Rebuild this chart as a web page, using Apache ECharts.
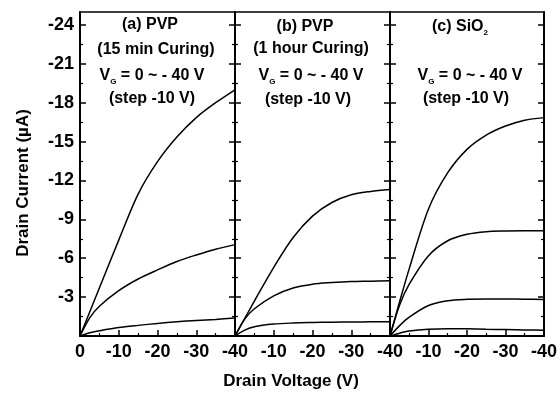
<!DOCTYPE html>
<html><head><meta charset="utf-8">
<script src="https://cdn.jsdelivr.net/npm/echarts@6/dist/echarts.min.js"></script>
<style>html,body{margin:0;padding:0;background:#fff}#c{width:560px;height:393px}</style>
</head><body><div id="c"></div>
<script>
// Drain voltage (V) sample points, shared by all curves
const drainVoltage = [0, -2.5, -5, -10, -15, -20, -25, -30, -35, -40];
// (a) PVP, 15 min curing — drain current (µA)
const pvp15_a1 = [0, -1.85, -3.7, -7.4, -10.95, -13.45, -15.35, -16.85, -18.0, -19.0];
const pvp15_a2 = [0, -1.4, -2.3, -3.5, -4.4, -5.1, -5.75, -6.25, -6.7, -7.05];
const pvp15_a3 = [0, -0.25, -0.4, -0.65, -0.82, -0.97, -1.1, -1.2, -1.28, -1.38];
// (b) PVP, 1 hour curing
const pvp1h_b1 = [0, -1.35, -2.7, -5.3, -7.6, -9.25, -10.3, -10.9, -11.15, -11.3];
const pvp1h_b2 = [0, -1.3, -2.1, -3.1, -3.7, -4.0, -4.12, -4.2, -4.23, -4.27];
const pvp1h_b3 = [0, -0.45, -0.72, -0.92, -1.0, -1.04, -1.07, -1.08, -1.09, -1.1];
// (c) SiO2
const sio2_c1 = [0, -2.65, -5.2, -9.8, -12.6, -14.4, -15.5, -16.2, -16.65, -16.85];
const sio2_c2 = [0, -2.4, -4.0, -6.2, -7.35, -7.85, -8.05, -8.1, -8.12, -8.12];
const sio2_c3 = [0, -0.8, -1.45, -2.35, -2.72, -2.83, -2.86, -2.85, -2.84, -2.82];
const sio2_c4 = [0, -0.22, -0.38, -0.52, -0.56, -0.55, -0.52, -0.5, -0.47, -0.44];
// tick values
const yMajorTicks = [-24, -21, -18, -15, -12, -9, -6, -3];
const yMinorTicks = [-22.5, -19.5, -16.5, -13.5, -10.5, -7.5, -4.5, -1.5];

const panels = [
  {curves: [pvp15_a1, pvp15_a2, pvp15_a3]},
  {curves: [pvp1h_b1, pvp1h_b2, pvp1h_b3]},
  {curves: [sio2_c1, sio2_c2, sio2_c3, sio2_c4]}
];
const FONT = '"Liberation Sans", Arial, sans-serif';
const gridLeft = [80, 235, 390];
const gridW = [155, 155, 154];

const grid = [], xAxis = [], yAxis = [], series = [];
panels.forEach((p, i) => {
  grid.push({left: gridLeft[i], width: gridW[i], top: 12, height: 324,
    show: true, borderColor: '#000', borderWidth: 1.5, backgroundColor: 'transparent'});
  xAxis.push({type: 'value', gridIndex: i, min: -40, max: 0, inverse: true, interval: 10,
    axisLine: {show: true, lineStyle: {color: '#000', width: 2}},
    axisTick: {show: true, inside: true, length: 6, lineStyle: {color: '#000', width: 1.5}},
    minorTick: {show: true, splitNumber: 2, length: 3, lineStyle: {color: '#000', width: 1.2}},
    splitLine: {show: false},
    axisLabel: {color: '#000', fontFamily: FONT, fontWeight: 'bold', fontSize: 18, margin: 7,
      showMinLabel: true, showMaxLabel: true,
      formatter: v => (i > 0 && v === 0) ? '' : String(v)}
  });
  const base = yAxis.length;
  ['left', 'right'].forEach(pos => {
    yAxis.push({type: 'value', gridIndex: i, position: pos, min: -25, max: 0, inverse: true,
      axisLine: {show: true, lineStyle: {color: '#000', width: 2}},
      axisTick: {show: true, inside: true, length: 6, customValues: yMajorTicks, lineStyle: {color: '#000', width: 1.5}},
      splitLine: {show: false},
      axisLabel: {show: i === 0 && pos === 'left', customValues: yMajorTicks, color: '#000',
        fontFamily: FONT, fontWeight: 'bold', fontSize: 18, margin: 6}
    });
    yAxis.push({type: 'value', gridIndex: i, position: pos, min: -25, max: 0, inverse: true,
      axisLine: {show: false},
      axisTick: {show: true, inside: true, length: 3, customValues: yMinorTicks, lineStyle: {color: '#000', width: 1.2}},
      splitLine: {show: false},
      axisLabel: {show: false}
    });
  });
  p.curves.forEach(c => {
    series.push({type: 'line', xAxisIndex: i, yAxisIndex: base, smooth: 0.3,
      showSymbol: false, silent: true, animation: false,
      lineStyle: {color: '#000', width: 1.5},
      data: drainVoltage.map((v, k) => [v, c[k]])});
  });
});

const tStyle = (x, y, text, size, rich) => ({
  type: 'text', x: x, y: y, silent: true,
  style: {text: text, fill: '#000', font: 'bold ' + size + 'px ' + FONT, align: 'center', verticalAlign: 'middle', rich: rich}
});
const subRich = {
  m: {fontFamily: FONT, fontWeight: 'bold', fontSize: 16, lineHeight: 20, verticalAlign: 'middle', fill: '#000'},
  s: {fontFamily: FONT, fontWeight: 'bold', fontSize: 8, lineHeight: 8, verticalAlign: 'bottom', fill: '#000'}
};
const graphic = [
  tStyle(150, 25, '(a) PVP', 16),
  tStyle(156, 50, '(15 min Curing)', 16),
  tStyle(152, 76, '{m|V}{s|G}{m| = 0 ~ - 40 V}', 16, subRich),
  tStyle(152, 99, '(step -10 V)', 16),
  tStyle(305, 27, '(b) PVP', 16),
  tStyle(311, 49, '(1 hour Curing)', 16),
  tStyle(311, 76, '{m|V}{s|G}{m| = 0 ~ - 40 V}', 16, subRich),
  tStyle(308, 100, '(step -10 V)', 16),
  tStyle(460, 27, '{m|(c) SiO}{s|2}', 16, subRich),
  tStyle(470, 76, '{m|V}{s|G}{m| = 0 ~ - 40 V}', 16, subRich),
  tStyle(466, 99, '(step -10 V)', 16),
  tStyle(291, 381, 'Drain Voltage (V)', 17),
  {type: 'text', x: 23, y: 183, rotation: Math.PI / 2, silent: true,
    style: {text: 'Drain Current (\u00B5A)', fill: '#000', font: 'bold 17px ' + FONT, align: 'center', verticalAlign: 'middle'}}
];

const chart = echarts.init(document.getElementById('c'), null, {renderer: 'canvas'});
chart.setOption({animation: false, backgroundColor: '#fff', grid, xAxis, yAxis, series, graphic});
</script></body></html>
